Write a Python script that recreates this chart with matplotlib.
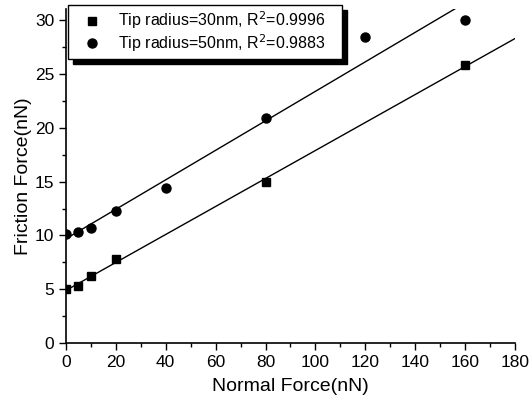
import numpy as np
import matplotlib
matplotlib.use("Agg")
import matplotlib.pyplot as plt
from matplotlib.ticker import MultipleLocator

plt.rcParams['font.family'] = ['Liberation Sans', 'DejaVu Sans']

x30 = [0, 5, 10, 20, 80, 160]
y30 = [5.0, 5.3, 6.2, 7.8, 15.0, 25.8]
x50 = [0, 5, 10, 20, 40, 80, 120, 160]
y50 = [10.1, 10.3, 10.7, 12.3, 14.4, 20.9, 28.4, 30.0]
labels = ["Tip radius=30nm, R$^2$=0.9996", "Tip radius=50nm, R$^2$=0.9883"]

W, H = 530, 407
fig = plt.figure(figsize=(W / 100, H / 100), dpi=100)
ax = fig.add_axes([0.1245, 0.157, 0.847, 0.82])

xf = np.array([0, 180])
for xs, ys in [(x30, y30), (x50, y50)]:
    p = np.polyfit(xs, ys, 1)
    ax.plot(xf, np.polyval(p, xf), color='black', lw=1.0, zorder=1)

ax.plot(x30, y30, 's', color='black', ms=6, label=labels[0], zorder=3, linestyle='none')
ax.plot(x50, y50, 'o', color='black', ms=6.5, label=labels[1], zorder=3, linestyle='none')

ax.set_xlim(0, 180)
ax.set_ylim(0, 31)
ax.xaxis.set_major_locator(MultipleLocator(20))
ax.xaxis.set_minor_locator(MultipleLocator(10))
ax.yaxis.set_major_locator(MultipleLocator(5))
ax.yaxis.set_minor_locator(MultipleLocator(2.5))
ax.spines['top'].set_visible(False)
ax.spines['right'].set_visible(False)
for s in ['left', 'bottom']:
    ax.spines[s].set_linewidth(1.2)
ax.tick_params(which='major', direction='out', length=5, width=1.0, labelsize=12.5)
ax.tick_params(which='minor', direction='out', length=3, width=1.0)
ax.set_xlabel("Normal Force(nN)", fontsize=14, labelpad=6)
ax.set_ylabel("Friction Force(nN)", fontsize=14, labelpad=2)

x0, y1, x1, y0 = 68 / W, 1 - 5 / H, 342 / W, 1 - 59 / H
leg = ax.legend(loc='upper left', bbox_to_anchor=(x0, y0, x1 - x0, y1 - y0),
                bbox_transform=fig.transFigure, mode='expand', borderaxespad=0,
                fontsize=11.5, frameon=True, fancybox=False, edgecolor='black', framealpha=1,
                shadow={'color': 'black', 'alpha': 1, 'ox': 3.5, 'oy': -3.5},
                handletextpad=0.4, borderpad=0.3, labelspacing=0.05, handlelength=2.4)
leg.get_frame().set_linewidth(1.0)

fig.savefig("out.png", dpi=100)
